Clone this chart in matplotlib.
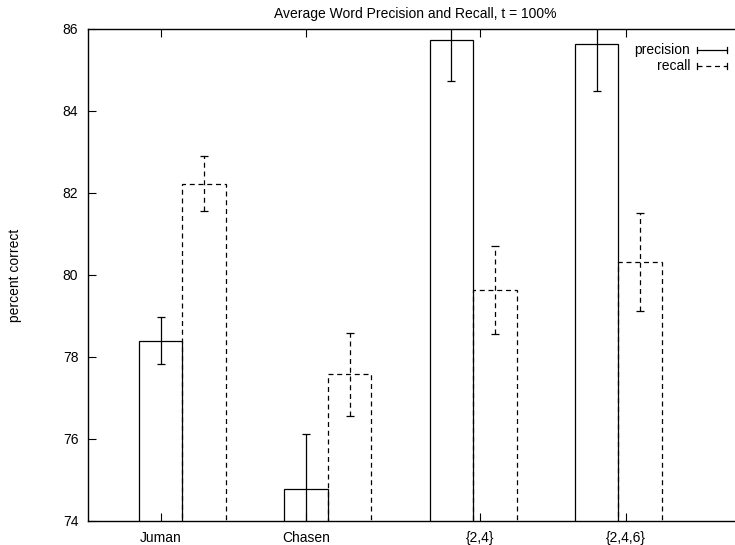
import matplotlib
matplotlib.use("Agg")
import matplotlib.pyplot as plt
import numpy as np

plt.rcParams['font.family'] = ['Liberation Sans', 'DejaVu Sans']

# data
categories = ["Juman", "Chasen", "{2,4}", "{2,4,6}"]
tick_pos = [0.0, 1.0, 2.2, 3.2]
precision = [78.40, 74.77, 85.74, 85.64]
precision_err = [0.57, 1.35, 1.02, 1.15]
recall = [82.23, 77.58, 79.63, 80.32]
recall_err = [0.68, 1.01, 1.08, 1.20]

bar_w = 0.3
dash = (0, (4, 3))

fig = plt.figure(figsize=(7.35, 5.45), dpi=100)
W, H = 735.0, 545.0
# plot frame runs past the right edge of the picture, as in the original
ax = fig.add_axes([88/W, 1-521/H, (742-88)/W, (521-29)/H])

x = np.arange(len(categories))

# precision boxes ------------------------------------------------------------
ax.bar(x, precision, width=bar_w, fill=False, edgecolor='black', linewidth=0.9)
ax.errorbar(x, precision, yerr=precision_err, fmt='none', ecolor='black',
            elinewidth=0.9, capsize=3, capthick=0.9)

# recall boxes (dashed) ------------------------------------------------------
ax.bar(x + bar_w, recall, width=bar_w, fill=False, edgecolor='black',
       linewidth=0.9, linestyle=dash)
eb = ax.errorbar(x + bar_w, recall, yerr=recall_err, fmt='none', ecolor='black',
                 elinewidth=0.9, capsize=3, capthick=0.9)
for c in eb[2]:
    c.set_linestyle(dash)

ax.set_xlim(-0.5, 4.0)
ax.set_ylim(74, 86)
ax.set_yticks(np.arange(74, 87, 2))
ax.set_xticks(tick_pos)
ax.set_xticklabels(categories)

ax.tick_params(axis='both', direction='in', length=6, width=0.8,
               labelsize=10, pad=7)
ax.tick_params(axis='x', top=True)
ax.tick_params(axis='y', right=False)
for s in ax.spines.values():
    s.set_linewidth(1.0)

fig.text(415/W, 1-14/H, "Average Word Precision and Recall, t = 100%",
         ha='center', va='center', fontsize=10)
fig.text(15/W, 1-275/H, "percent correct", rotation=90,
         ha='center', va='center', fontsize=10)

# legend drawn by hand -------------------------------------------------------
for i, (lab, ls) in enumerate([("precision", '-'), ("recall", dash)]):
    yy = 1 - (50 + 16*i)/H
    fig.text(690/W, yy, lab, ha='right', va='center', fontsize=10)
    fig.add_artist(plt.Line2D([697/W, 727/W], [yy, yy], color='black',
                              linewidth=0.9, linestyle=ls))
    for xe in (697, 727):
        fig.add_artist(plt.Line2D([xe/W, xe/W], [yy-3/H, yy+3/H],
                                  color='black', linewidth=0.9))

fig.savefig("out.png", dpi=100)
